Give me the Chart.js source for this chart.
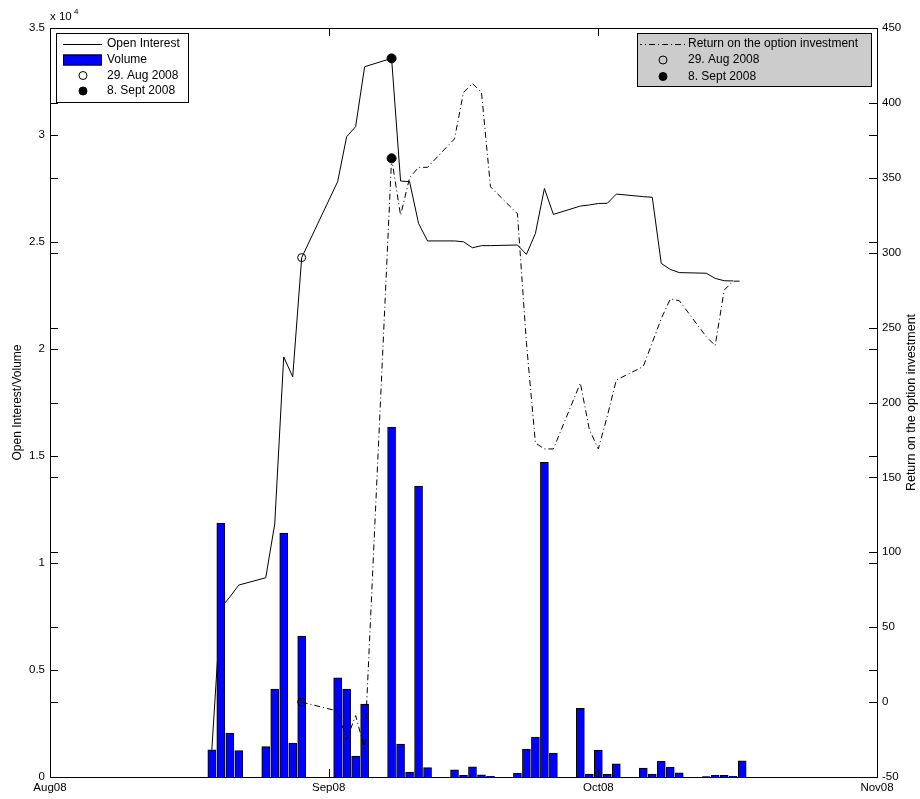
<!DOCTYPE html>
<html>
<head>
<meta charset="utf-8">
<script src="https://cdn.jsdelivr.net/npm/chart.js@4.4.1/dist/chart.umd.min.js"></script>
<style>
  body { margin: 0; background: #fff; }
  canvas { display: block; }
</style>
</head>
<body>
<canvas id="chart" width="920" height="799"></canvas>
<script>
// trading days, Aug 19 - Oct 17 2008 (mm-dd)
var tradeDays = [
  '08-19','08-20','08-21','08-22','08-25','08-26','08-27','08-28','08-29',
  '09-02','09-03','09-04','09-05','09-08','09-09','09-10','09-11','09-12',
  '09-15','09-16','09-17','09-18','09-19','09-22','09-23','09-24','09-25','09-26','09-29','09-30',
  '10-01','10-02','10-03','10-06','10-07','10-08','10-09','10-10','10-13','10-14','10-15','10-16','10-17'
];
var volume = [
  1270, 11870, 2050, 1230, 1420, 4110, 11400, 1590, 6590,
  4630, 4110, 980, 3410, 16340, 1540, 230, 13600, 440,
  330, 80, 470, 100, 30, 170, 1300, 1870, 14700, 1120, 3210, 140,
  1260, 130, 610, 420, 140, 730, 450, 200, 20, 80, 80, 30, 750
];
var openInterest = [
  1270, 7900, 8410, 8970, 9310, 11820, 19630, 18700, 24270,
  27820, 29920, 30390, 33190, 33580, 27850, 27820, 25870, 25050,
  25050, 25010, 24730, 24830, 24830, 24860, 24420, 25400, 27500, 26290, 26680, 26730,
  26800, 26810, 27240, 27120, 27090, 24000, 23720, 23570, 23540, 23300, 23190, 23180, null
];
var optionReturn = [
  null, null, null, null, null, null, null, null, 0,
  -6, -25, -9, -31, 363, 325, 350, 357, 357,
  376, 407, 413, 407, 344, 326, 240, 173, 169, 169, 213, 182,
  169, 191, 215, 224, 240, 256, 269, 268, 244, 238, 275, 281, 281
];
var openMarkerDay = '08-29';
var filledMarkerDay = '09-08';

var xTickDays = ['08-01', '09-01', '10-01', '11-01'];
var xTickLabels = ['Aug08', 'Sep08', 'Oct08', 'Nov08'];
var leftTicks = [0, 5000, 10000, 15000, 20000, 25000, 30000, 35000];
var rightTicks = [-50, 0, 50, 100, 150, 200, 250, 300, 350, 400, 450];

var leftLegend = ['Open Interest', 'Volume', '29. Aug 2008', '8. Sept 2008'];
var rightLegend = ['Return on the option investment', '29. Aug 2008', '8. Sept 2008'];

// days since 1 Aug 2008
function dayOf(s) {
  var p = s.split('-');
  return (Date.UTC(2008, p[0] - 1, +p[1]) - Date.UTC(2008, 7, 1)) / 864e5;
}
function pts(vals) {
  return tradeDays.map(function (d, i) { return { x: dayOf(d), y: vals[i] }; });
}
function markerPt(day, vals) {
  return { x: dayOf(day), y: vals[tradeDays.indexOf(day)] };
}

var FONT = "'Liberation Sans', Arial, sans-serif";
Chart.defaults.font.family = FONT;
Chart.defaults.font.size = 11.5;
Chart.defaults.color = '#000';

var DASHDOT = [6, 3, 1, 3];

function drawLegendBox(c, x, y, w, h, fill) {
  c.fillStyle = fill;
  c.fillRect(x, y, w, h);
  c.strokeStyle = '#000';
  c.lineWidth = 1;
  c.strokeRect(x + 0.5, y + 0.5, w, h);
}
function circle(c, x, y, r, filled) {
  c.beginPath();
  c.arc(x, y, r, 0, Math.PI * 2);
  if (filled) { c.fillStyle = '#000'; c.fill(); }
  c.strokeStyle = '#000';
  c.lineWidth = 1;
  c.stroke();
}

var decorations = {
  id: 'decorations',
  afterDraw: function (chart) {
    var c = chart.ctx, a = chart.chartArea;
    var sx = chart.scales.x, sy = chart.scales.y, sy2 = chart.scales.y2;
    c.save();
    // axes box
    c.strokeStyle = '#000';
    c.lineWidth = 1;
    c.strokeRect(a.left + 0.5, a.top + 0.5, a.right - a.left, a.bottom - a.top);
    // inward ticks, both sides
    var TL = 8;
    c.beginPath();
    leftTicks.forEach(function (v) {
      var p = Math.round(sy.getPixelForValue(v)) + 0.5;
      c.moveTo(a.left, p); c.lineTo(a.left + TL, p);
      c.moveTo(a.right, p); c.lineTo(a.right - TL, p);
    });
    rightTicks.forEach(function (v) {
      var p = Math.round(sy2.getPixelForValue(v)) + 0.5;
      c.moveTo(a.left, p); c.lineTo(a.left + TL, p);
      c.moveTo(a.right, p); c.lineTo(a.right - TL, p);
    });
    xTickDays.forEach(function (d) {
      var p = Math.round(sx.getPixelForValue(dayOf(d))) + 0.5;
      c.moveTo(p, a.bottom); c.lineTo(p, a.bottom - TL);
      c.moveTo(p, a.top); c.lineTo(p, a.top + TL);
    });
    c.stroke();

    // exponent label
    c.fillStyle = '#000';
    c.textBaseline = 'middle';
    c.textAlign = 'left';
    c.font = '11.5px ' + FONT;
    c.fillText('x 10', 50, 17);
    c.font = '8px ' + FONT;
    c.fillText('4', 74, 12);

    // right axis title
    c.save();
    c.font = '12.5px ' + FONT;
    c.translate(912, (a.top + a.bottom) / 2);
    c.rotate(-Math.PI / 2);
    c.textAlign = 'center';
    c.fillText('Return on the option investment', 0, 0);
    c.restore();

    // left legend
    c.font = '12px ' + FONT;
    drawLegendBox(c, 56, 33, 132, 69, '#fff');
    var rows = [44, 60, 75.5, 91];
    c.beginPath();
    c.moveTo(63, rows[0] + 0.5); c.lineTo(102, rows[0] + 0.5);
    c.stroke();
    c.fillStyle = '#0000ff';
    c.fillRect(63, rows[1] - 5.5, 39, 11);
    c.strokeRect(63.5, rows[1] - 5, 38, 10);
    circle(c, 83, rows[2], 4, false);
    circle(c, 83, rows[3], 4, true);
    c.fillStyle = '#000';
    leftLegend.forEach(function (t, i) { c.fillText(t, 107, rows[i]); });

    // right legend
    drawLegendBox(c, 637, 33, 234, 53, '#cccccc');
    var rrows = [44, 60, 76.5];
    c.save();
    c.setLineDash(DASHDOT);
    c.lineDashOffset = 4;
    c.beginPath();
    c.moveTo(640, rrows[0] + 0.5); c.lineTo(685, rrows[0] + 0.5);
    c.stroke();
    c.restore();
    circle(c, 663, rrows[1], 4, false);
    circle(c, 663, rrows[2], 4, true);
    c.fillStyle = '#000';
    rightLegend.forEach(function (t, i) { c.fillText(t, 688, rrows[i]); });
    c.restore();
  }
};

var ctx = document.getElementById('chart').getContext('2d');
var chart = new Chart(ctx, {
  type: 'bar',
  data: {
    datasets: [
      {
        type: 'line', label: 'Open Interest', data: pts(openInterest),
        yAxisID: 'y', borderColor: '#000', borderWidth: 1, pointRadius: 0,
        tension: 0, fill: false, order: 4
      },
      {
        type: 'bar', label: 'Volume', data: pts(volume),
        yAxisID: 'y', backgroundColor: '#0000ff', borderColor: '#000',
        borderWidth: 1, barThickness: 8, order: 3
      },
      {
        type: 'line', label: 'Return on the option investment', data: pts(optionReturn),
        yAxisID: 'y2', borderColor: '#000', borderWidth: 1, borderDash: DASHDOT,
        pointRadius: 0, tension: 0, fill: false, spanGaps: false, order: 2
      },
      {
        type: 'line', label: '29. Aug 2008', showLine: false,
        data: [markerPt(openMarkerDay, openInterest)], yAxisID: 'y',
        pointRadius: 4, pointBackgroundColor: 'rgba(0,0,0,0)', pointBorderColor: '#000',
        pointBorderWidth: 1, order: 1
      },
      {
        type: 'line', label: '8. Sept 2008', showLine: false,
        data: [markerPt(filledMarkerDay, openInterest)], yAxisID: 'y',
        pointRadius: 4.5, pointBackgroundColor: '#000', pointBorderColor: '#000',
        pointBorderWidth: 1, order: 1
      },
      {
        type: 'line', label: '29. Aug 2008 (return)', showLine: false,
        data: [markerPt(openMarkerDay, optionReturn)], yAxisID: 'y2',
        pointRadius: 4, pointBackgroundColor: 'rgba(0,0,0,0)', pointBorderColor: '#000',
        pointBorderWidth: 1, order: 0
      },
      {
        type: 'line', label: '8. Sept 2008 (return)', showLine: false,
        data: [markerPt(filledMarkerDay, optionReturn)], yAxisID: 'y2',
        pointRadius: 4.5, pointBackgroundColor: '#000', pointBorderColor: '#000',
        pointBorderWidth: 1, order: 0
      }
    ]
  },
  options: {
    responsive: false,
    animation: false,
    devicePixelRatio: 1,
    events: [],
    layout: { padding: { top: 28, left: 0, right: 0, bottom: 0 } },
    plugins: { legend: { display: false }, tooltip: { enabled: false } },
    scales: {
      x: {
        type: 'linear', offset: false,
        min: dayOf(xTickDays[0]), max: dayOf(xTickDays[xTickDays.length - 1]),
        afterBuildTicks: function (s) {
          s.ticks = xTickDays.map(function (d) { return { value: dayOf(d) }; });
        },
        ticks: {
          autoSkip: false, maxRotation: 0, padding: 4,
          callback: function (v) {
            var i = xTickDays.map(dayOf).indexOf(v);
            return i >= 0 ? xTickLabels[i] : '';
          }
        },
        grid: { display: false, drawTicks: false },
        border: { display: false },
        afterFit: function (s) { s.height = 22; }
      },
      y: {
        position: 'left', min: 0, max: 35000,
        afterBuildTicks: function (s) {
          s.ticks = leftTicks.map(function (v) { return { value: v }; });
        },
        ticks: { padding: 5, callback: function (v) { return String(v / 10000); } },
        grid: { display: false, drawTicks: false },
        border: { display: false },
        title: { display: true, text: 'Open Interest/Volume', padding: { top: 10, bottom: 0 }, font: { size: 12 } },
        afterFit: function (s) { s.width = 50; }
      },
      y2: {
        position: 'right', min: -50, max: 450,
        afterBuildTicks: function (s) {
          s.ticks = rightTicks.map(function (v) { return { value: v }; });
        },
        ticks: { padding: 5 },
        grid: { display: false, drawTicks: false },
        border: { display: false },
        afterFit: function (s) { s.width = 43; }
      }
    }
  },
  plugins: [decorations]
});
</script>
</body>
</html>
